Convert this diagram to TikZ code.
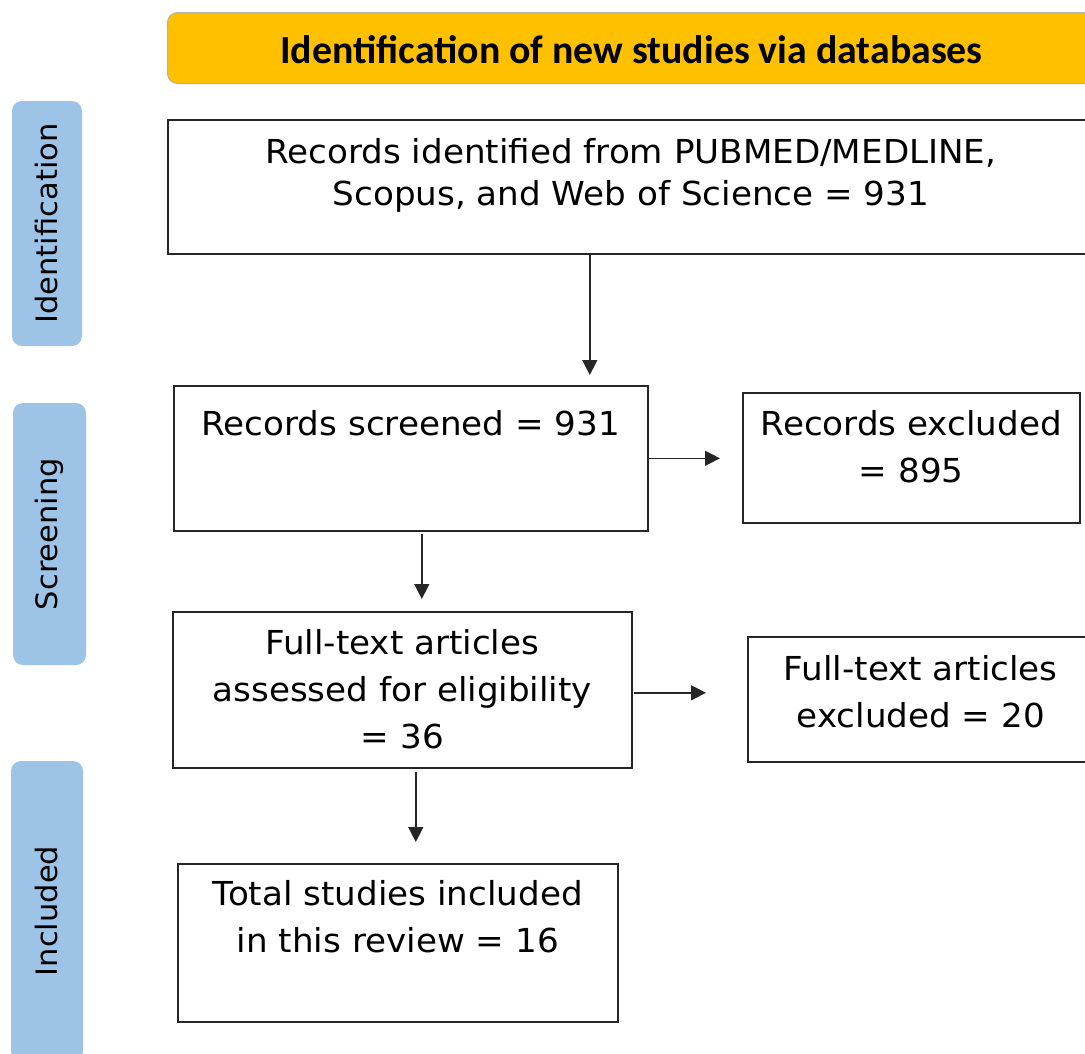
\documentclass[tikz,border=0pt]{standalone}
\usepackage{fontspec}
\setmainfont{DejaVu Sans}[FakeStretch=1.035]
\newfontfamily\headfont{Carlito}
\usepackage{xcolor}
\usepackage{tikz}
\usetikzlibrary{arrows.meta}
\definecolor{headyellow}{HTML}{FFC000}
\definecolor{stageblue}{HTML}{9DC3E6}

\begin{document}
\begin{tikzpicture}[
x=1pt, y=-1pt,
header/.style={rectangle, rounded corners=10pt, draw=black!30, line width=1pt, fill=headyellow, anchor=north west, inner sep=0pt, font=\headfont\bfseries\fontsize{39.8}{47}\selectfont},
stage/.style={rectangle, rounded corners=10pt, fill=stageblue, rotate=90, inner sep=0pt, font=\fontsize{29.5}{36}\selectfont},
record/.style={rectangle, draw=black!85, line width=1.6pt, anchor=north west, inner sep=0pt, align=center, font=\fontsize{33}{47}\selectfont},
flow/.style={-{Triangle[length=15pt,width=15pt]}, line width=1.4pt, draw=black!85},
]

\clip (0,0) rectangle (1085,1053);

\node[header, minimum width=928pt, text height=51pt, text depth=20pt] (head) at (167,12) {Identification of new studies via databases};

\node[stage, minimum width=245pt, minimum height=70pt] (ident) at (47,223.5) {Identification};
\node[stage, minimum width=262pt, minimum height=73pt] (screen) at (49.5,534) {Screening};
\node[stage, minimum width=300pt, minimum height=72pt] (incl) at (47,911) {Included};

\node[record, minimum width=926pt, text height=86pt, text depth=48pt, font=\fontsize{33}{42}\selectfont] (found) at (167,119) {Records identified from PUBMED/MEDLINE,\\Scopus, and Web of Science = 931};
\node[record, minimum width=474pt, text height=50pt, text depth=95pt] (screened) at (173,385) {Records screened = 931};
\node[record, minimum width=337pt, text height=90pt, text depth=40pt] (excluded) at (742,392) {Records excluded\\= 895};
\node[record, minimum width=459pt, text height=137pt, text depth=19pt] (assessed) at (172,611) {Full-text articles\\assessed for eligibility\\= 36};
\node[record, minimum width=346pt, text height=91pt, text depth=34pt] (ftexcl) at (747,636) {Full-text articles\\excluded = 20};
\node[record, minimum width=440pt, text height=89pt, text depth=69pt] (included) at (177,863) {Total studies included\\in this review = 16};

\draw[flow, shorten >=10pt] ([xshift=-41pt]found.south) -- ([xshift=-41pt]found.south |- screened.north);
\draw[flow, shorten >=22pt] (screened.east) -- (screened.east -| excluded.west);
\draw[flow, shorten <=2pt, shorten >=12pt] ([xshift=11pt]screened.south) -- ([xshift=11pt]screened.south |- assessed.north);
\draw[flow, shorten <=1pt, shorten >=41pt] ([yshift=-3pt]assessed.east) -- ([yshift=-3pt]assessed.east -| ftexcl.west);
\draw[flow, shorten <=3pt, shorten >=21pt] ([xshift=13.5pt]assessed.south) -- ([xshift=13.5pt]assessed.south |- included.north);

\end{tikzpicture}
\end{document}
